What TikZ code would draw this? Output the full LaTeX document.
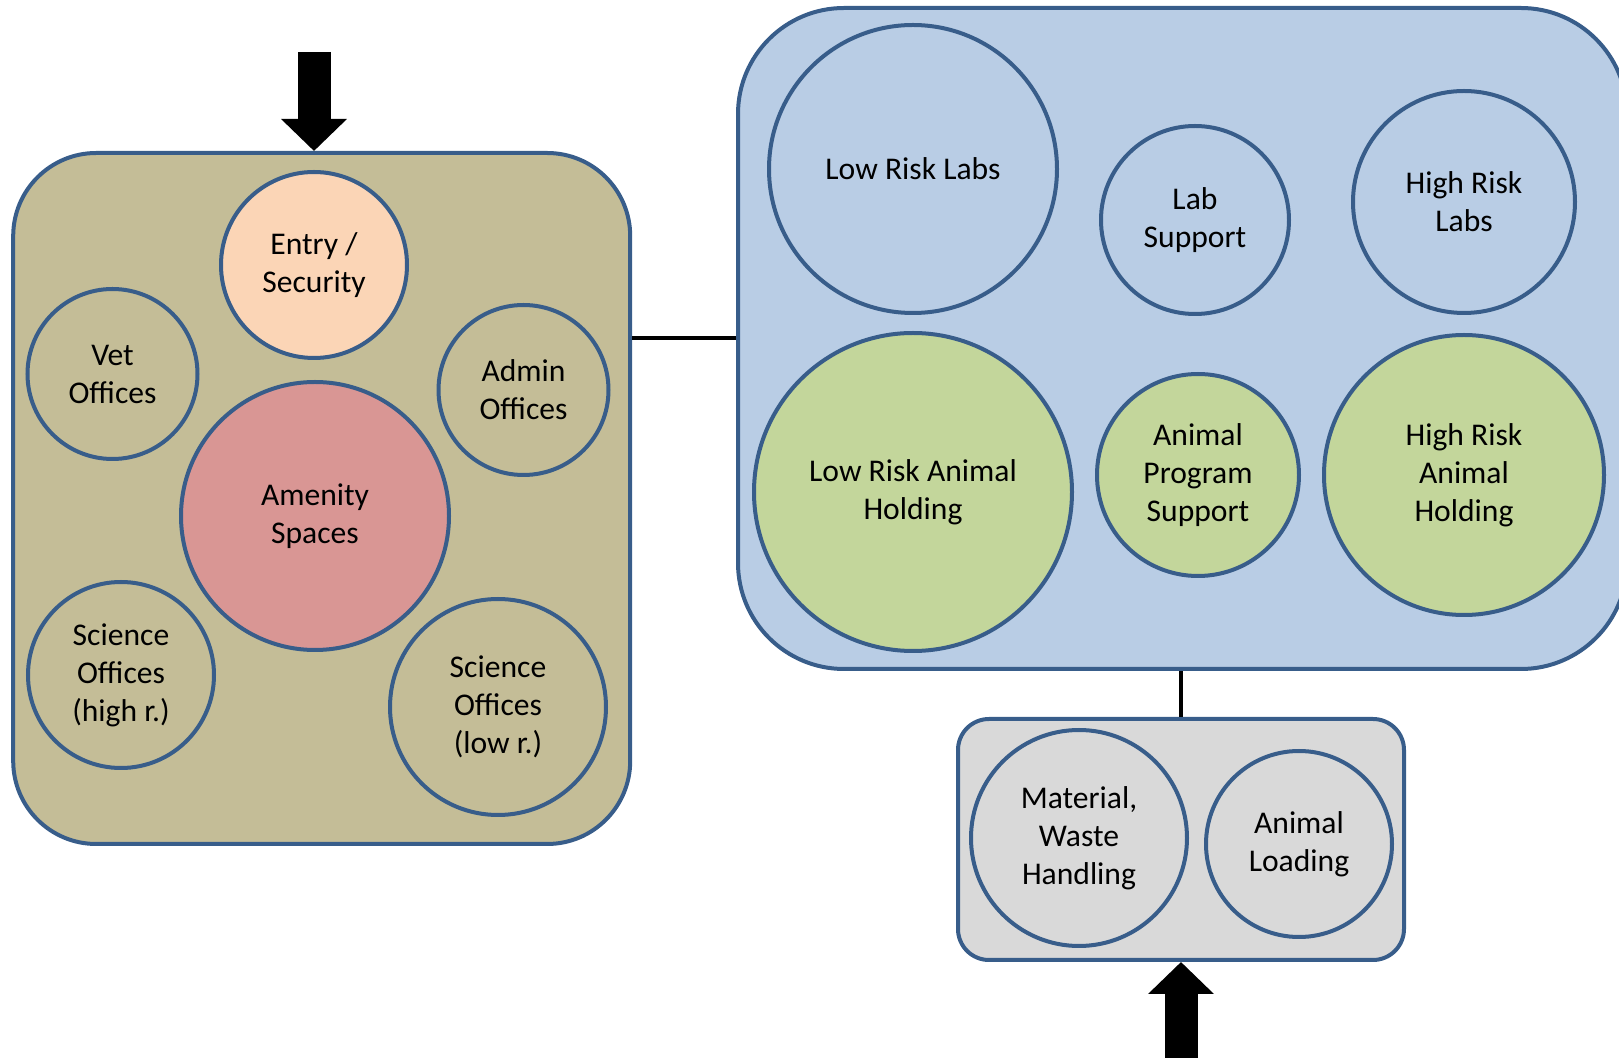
\documentclass[tikz,border=0pt]{standalone}
\usepackage{fontspec}
\setmainfont{Carlito}
\usetikzlibrary{arrows.meta,positioning}
\definecolor{edgeblue}{RGB}{56,93,138}
\definecolor{tanfill}{RGB}{196,189,151}
\definecolor{labfill}{RGB}{185,205,229}
\definecolor{animfill}{RGB}{195,214,155}
\definecolor{dockfill}{RGB}{217,217,217}
\definecolor{entryfill}{RGB}{251,213,182}
\definecolor{amenfill}{RGB}{217,150,148}

\begin{document}
\begin{tikzpicture}[x=0.5pt,y=-0.5pt,
    zone/.style={draw=edgeblue,line width=2pt,inner sep=0pt},
    room/.style={circle,draw=edgeblue,line width=2pt,inner sep=0pt,align=center,
      font=\fontsize{15.8}{19}\selectfont},
    link/.style={line width=2pt},
    feed/.style={line width=16.5pt,-{Triangle[length=16pt,width=32pt]}}]
  \clip (0,0) rectangle (1619,1063);
  % zones
  \node[zone,fill=tanfill,rounded corners=41.5pt,minimum width=308.5pt,minimum height=345.5pt]
    (office) at (321.7,498.5) {};
  \node[zone,fill=labfill,rounded corners=53pt,minimum width=444.5pt,minimum height=330.5pt]
    (labs) at (1182.5,338.5) {};
  \node[zone,fill=dockfill,rounded corners=15.5pt,minimum width=223pt,minimum height=120.5pt]
    (dock) at (1181,839.5) {};
  \draw[link] (labs.west -| office.east) -- (labs.west);
  \draw[link] (dock.north) -- (dock.north |- labs.south);
  % office rooms
  \node[room,fill=entryfill,minimum size=93pt] (entry) at (314,265) {Entry /\\Security};
  \node[room,fill=tanfill,minimum size=85pt] (vet) at (112.5,374) {Vet\\Offices};
  \node[room,fill=tanfill,minimum size=85pt] (admin) at (523.5,390) {Admin\\Offices};
  \node[room,fill=amenfill,minimum size=134pt] (amenity) at (315,516) {Amenity\\Spaces};
  \node[room,fill=tanfill,minimum size=93pt] (scihigh) at (121,675) {Science\\Offices\\(high r.)};
  \node[room,fill=tanfill,minimum size=108pt] (scilow) at (498,707) {Science\\Offices\\(low r.)};
  % lab rooms
  \node[room,fill=labfill,minimum size=144pt] (lowlab) at (913,169) {Low Risk Labs};
  \node[room,fill=labfill,minimum size=94pt] (labsup) at (1195,220) {Lab\\Support};
  \node[room,fill=labfill,minimum size=111pt] (highlab) at (1464,202) {High Risk\\Labs};
  \node[room,fill=animfill,minimum size=159pt] (lowanim) at (913,492) {Low Risk Animal\\Holding};
  \node[room,fill=animfill,minimum size=101pt] (animsup) at (1198,475) {Animal\\Program\\Support};
  \node[room,fill=animfill,minimum size=140pt] (highanim) at (1464,475) {High Risk\\Animal\\Holding};
  % dock rooms
  \node[room,fill=dockfill,minimum size=108pt] (waste) at (1079,838) {Material,\\Waste\\Handling};
  \node[room,fill=dockfill,minimum size=93pt] (loading) at (1299,844) {Animal\\Loading};
  % entries
  \coordinate (entryin) at (314,52);
  \coordinate (dockin) at (1181,1058);
  \draw[feed] (entryin) -- (entryin |- office.north);
  \draw[feed] (dockin) -- (dock.south);
\end{tikzpicture}
\end{document}
